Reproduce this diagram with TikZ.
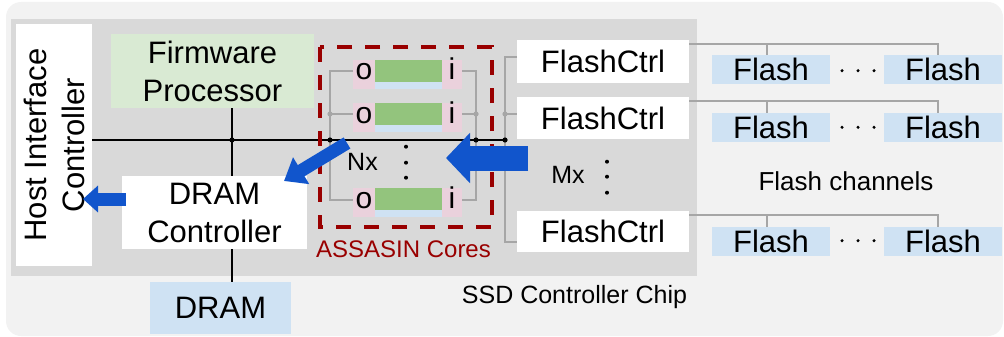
\documentclass[tikz,border=0pt]{standalone}
\usepackage{fontspec}
\setmainfont{Liberation Sans}
\usetikzlibrary{arrows.meta}
\definecolor{bgout}{HTML}{F2F2F2}
\definecolor{chipgray}{HTML}{D9D9D9}
\definecolor{fwgreen}{HTML}{D9EAD3}
\definecolor{lblue}{HTML}{CFE2F3}
\definecolor{lpink}{HTML}{EAD1DC}
\definecolor{cgreen}{HTML}{93C47D}
\definecolor{abl}{HTML}{1155CC}
\definecolor{dred}{HTML}{990000}
\definecolor{wgray}{HTML}{A6A6A6}
\begin{document}
\begin{tikzpicture}[x=1pt,y=-1pt,
  box/.style={inner sep=0pt, outer sep=0pt, align=center, font=\fontsize{31}{38}\selectfont},
  wire/.style={draw=wgray, line width=1.6pt},
  bus/.style={draw=black, line width=1.5pt},
  bigarrow/.style={draw=abl, line width=#1},
  lbl/.style={inner sep=0pt, anchor=base, font=\fontsize{25}{30}\selectfont},
  letter/.style={inner sep=0pt, anchor=base, font=\fontsize{30}{36}\selectfont},
  pinkbox/.style={fill=lpink, draw=none, inner sep=0pt, minimum width=#1, minimum height=29pt},
]
\useasboundingbox (0,0) rectangle (1004,337);
\fill[bgout, rounded corners=15pt] (6,2) rectangle (1003,336);
\fill[chipgray] (11,19) rectangle (697,276);

% main boxes
\node[box, fill=white, rotate=90, minimum width=242pt, minimum height=76pt] (hic) at (54,145) {Host Interface\\Controller};
\node[box, fill=fwgreen, minimum width=203pt, minimum height=74pt] (fw) at (212.5,71) {Firmware\\Processor};
\node[box, fill=white, minimum width=185pt, minimum height=73pt] (dc) at (214.5,212.5) {DRAM\\Controller};
\node[box, fill=lblue, minimum width=141pt, minimum height=52pt] (dram) at (220.5,308) {DRAM};

% flash controllers
\node[box, fill=white, minimum width=172pt, minimum height=43pt] (fc1) at (603,61.5) {FlashCtrl};
\node[box, fill=white, minimum width=172pt, minimum height=42pt] (fc2) at (603,118) {FlashCtrl};
\node[box, fill=white, minimum width=172pt, minimum height=41pt] (fc3) at (603,231.5) {FlashCtrl};

% flash chips
\foreach \r/\y in {1/69.5,2/127,3/241}{
  \node[box, fill=lblue, minimum width=118pt, minimum height=29pt] (fl\r) at (771,\y) {Flash};
  \node[box, fill=lblue, minimum width=118pt, minimum height=29pt] (fr\r) at (943,\y) {Flash};
}
% flash channel wires
\foreach \r in {1,2,3}{
  \draw[wire] ([yshift=-4pt]fc\r.north east) -| ([xshift=-5pt]fr\r.north);
  \draw[wire] ([xshift=-4pt]fl\r.north) -- ++(0,-11);
}
% dots between flash chips
\foreach \r/\y in {1/70.7,2/127.3,3/240.7}{
  \foreach \x [count=\k] in {842,858,874}{
    \fill (\x,\y) circle (1.7pt) coordinate (fd\r\k);
  }
}

% bus and junctions
\coordinate (j1) at (232,140);
\coordinate (j2) at (330,140);
\coordinate (j3) at (476,140);
\coordinate (j4) at (505,140);
\draw[bus] (hic.south |- j1) -- (j4);
\draw[bus] (j1 |- fw.south) -- (j1 |- dc.north);
\draw[bus] (j1 |- dc.south) -- (j1 |- dram.north);

% ASSASIN cores
\foreach \r/\t in {1/60,2/103,3/188}{
  \node[pinkbox=22pt, anchor=north west] (po\r) at (353,\t) {};
  \node[pinkbox=20pt, anchor=north west] (pi\r) at (442,\t) {};
  \fill[cgreen] (375,\t) rectangle (442,\t+22) coordinate (g\r);
  \fill[lblue] (375,\t+22) rectangle (442,\t+29);
  \node[letter] (lo\r) at (364,\t+20) {o};
  \node[letter] (li\r) at (452,\t+20) {i};
}
% core wires
\coordinate (cl1) at (330,71);  \coordinate (cl2) at (330,114); \coordinate (cl3) at (330,200);
\coordinate (cr1) at (476,71);  \coordinate (cr2) at (476,114); \coordinate (cr3) at (476,200);
\draw[wire] (po1.west |- cl1) -- (cl1) -- (cl3) -- (po3.west |- cl3);
\draw[wire] (cl2) -- (po2.west |- cl2);
\draw[wire] (pi1.east |- cr1) -- (cr1) -- (cr3) -- (pi3.east |- cr3);
\draw[wire] (cr2) -- (pi2.east |- cr2);
% flashctrl wires
\coordinate (fw1) at (505,57); \coordinate (fw2) at (505,114); \coordinate (fw3) at (505,242);
\draw[wire] (fc1.west |- fw1) -- (fw1) -- (fw3) -- (fc3.west |- fw3);
\draw[wire] (fw2) -- (fc2.west |- fw2);
% gray dots
\foreach \c in {cl2,cr2,fw2}{ \fill[wgray] (\c) circle (2.6pt); }
% black dots
\foreach \c in {j1,j2,j3,j4}{ \fill (\c) circle (2.6pt); }

% dashed red border
\draw[dred, line width=4pt, dash pattern=on 15pt off 13pt] (320,47) rectangle (492,227);
\node[lbl, text=dred, font=\fontsize{24}{28}\selectfont] (asc) at (403.5,257) {ASSASIN Cores};

% vertical dots
\foreach \y [count=\k] in {146.7,162.7,177.7}{ \fill (406,\y) circle (2pt) coordinate (nd\k); }
\foreach \y [count=\k] in {161.7,176.7,192.7}{ \fill (607,\y) circle (2pt) coordinate (md\k); }

% labels
\node[lbl] (nx) at (362.5,170) {Nx};
\node[lbl] (mx) at (568,183) {Mx};
\node[lbl, font=\fontsize{26}{30}\selectfont] (fch) at (846,190) {Flash channels};
\node[lbl] (ssd) at (574.5,303) {SSD Controller Chip};

% blue arrows
\coordinate (a1s) at (126,199); \coordinate (a1e) at (83,199);
\draw[bigarrow=13pt, -{Triangle[length=15pt,width=26pt]}] (a1s) -- (a1e);
\coordinate (a2s) at (347,143); \coordinate (a2e) at (284,181);
\draw[bigarrow=13pt, -{Triangle[length=20pt,width=30pt]}] (a2s) -- (a2e);
\coordinate (a3s) at (528,158); \coordinate (a3e) at (446,158);
\draw[bigarrow=25pt, -{Triangle[length=24pt,width=49pt]}] (a3s) -- (a3e);
\end{tikzpicture}
\end{document}
